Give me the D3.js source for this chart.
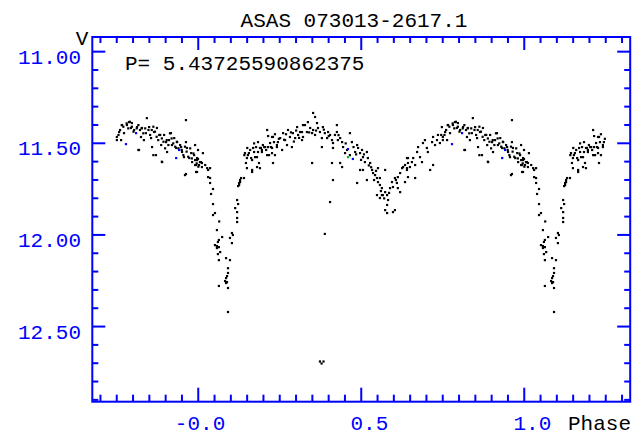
<!DOCTYPE html>
<html>
<head>
<meta charset="utf-8">
<script src="https://cdn.jsdelivr.net/npm/d3@7"></script>
<style>
  html, body { margin: 0; padding: 0; background: #fff; }
  svg { display: block; }
  text { font-family: "Liberation Mono", "DejaVu Sans Mono", monospace; font-size: 21px; }
</style>
</head>
<body>
<svg id="chart" width="643" height="439"></svg>
<script>
// ---------------- data ----------------
const chartTitle = "ASAS 073013-2617.1";
const periodText = "P= 5.43725590862375";
const yAxisName = "V";
const xAxisName = "Phase";

const xLabelValues = [0, 0.5, 1.0];
const xLabelTexts = ["-0.0", "0.5", "1.0"];
const yLabelValues = [11.0, 11.5, 12.0, 12.5];
const yLabelTexts = ["11.00", "11.50", "12.00", "12.50"];

// observations folded on phase 0..1 : [phase, V magnitude]
const blackPoints = [
  // primary eclipse
  [0.990,11.509],[0.999,11.536],[0.996,11.580],[0.999,11.585],[0.005,11.602],[0.011,11.607],
  [0.990,11.618],[0.014,11.553],[0.021,11.618],[0.027,11.635],[0.030,11.645],[0.036,11.635],
  [0.996,11.656],[0.030,11.684],[0.036,11.689],[0.036,11.716],[0.045,11.749],[0.039,11.776],
  [0.045,11.831],[0.051,11.880],[0.045,11.891],[0.064,11.926],[0.119,11.907],[0.119,11.929],
  [0.057,11.973],[0.103,11.989],[0.106,12.000],[0.073,12.011],[0.097,12.016],[0.063,12.027],
  [0.060,12.038],[0.051,12.055],[0.057,12.060],[0.063,12.066],[0.103,12.044],[0.057,12.071],
  [0.067,12.093],[0.060,12.104],[0.085,12.126],[0.097,12.137],[0.063,12.137],[0.091,12.181],
  [0.091,12.207],[0.088,12.224],[0.085,12.235],[0.082,12.251],[0.085,12.262],[0.088,12.257],
  [0.063,12.278],[0.091,12.289],[0.091,12.420],
  [0.119,11.809],[0.122,11.831],[0.113,11.853],[0.119,11.875],
  [0.122,11.733],[0.125,11.716],[0.128,11.700],[0.131,11.689],[0.125,11.727],[0.128,11.711],
  // rising branch
  [0.140,11.689],[0.143,11.553],[0.149,11.580],[0.152,11.564],[0.159,11.536],[0.165,11.591],
  [0.168,11.525],[0.174,11.575],[0.180,11.629],[0.183,11.547],[0.189,11.525],[0.149,11.635],
  [0.165,11.656],[0.189,11.635],[0.195,11.536],[0.198,11.509],[0.205,11.520],[0.211,11.564],
  [0.214,11.520],[0.220,11.498],[0.226,11.525],[0.229,11.607],[0.235,11.564],[0.241,11.509],
  [0.244,11.493],[0.251,11.471],[0.257,11.536],[0.260,11.444],[0.266,11.482],[0.272,11.509],
  [0.275,11.427],[0.281,11.465],[0.287,11.520],[0.290,11.444],[0.297,11.471],[0.303,11.411],
  [0.306,11.454],[0.312,11.438],[0.318,11.482],[0.321,11.400],[0.211,11.427],[0.229,11.465],
  [0.226,11.553],
  [0.141,11.564],[0.150,11.525],[0.162,11.580],[0.171,11.547],[0.177,11.520],[0.180,11.575],
  [0.186,11.607],[0.192,11.525],[0.195,11.547],[0.202,11.520],[0.208,11.536],[0.217,11.564],
  [0.223,11.520],[0.226,11.465],[0.232,11.493],[0.241,11.520],[0.146,11.607],[0.165,11.645],
  [0.155,11.553],[0.171,11.500],[0.183,11.493],[0.214,11.460],[0.235,11.450],[0.247,11.475],
  [0.263,11.480],[0.269,11.450],[0.284,11.440],[0.293,11.490],[0.300,11.430],[0.309,11.470],
  // maximum near phase 0.33
  [0.318,11.438],[0.321,11.465],[0.327,11.400],[0.333,11.438],[0.336,11.384],[0.343,11.416],
  [0.349,11.444],[0.352,11.427],[0.358,11.356],[0.358,11.454],[0.364,11.389],[0.367,11.416],
  [0.373,11.438],[0.379,11.471],[0.382,11.411],[0.388,11.444],[0.395,11.471],[0.398,11.438],
  [0.404,11.454],[0.410,11.482],[0.413,11.498],[0.419,11.454],[0.425,11.400],[0.425,11.438],
  [0.428,11.482],[0.435,11.471],[0.441,11.493],[0.444,11.520],[0.413,11.525],[0.379,11.520],
  [0.349,11.607],[0.410,11.607],[0.435,11.607],[0.441,11.629],[0.413,11.700],[0.404,11.820],
  [0.352,11.334],[0.340,11.440],[0.361,11.430],[0.385,11.425],[0.400,11.460],[0.430,11.455],
  // decline to secondary minimum
  [0.465,11.444],[0.471,11.493],[0.456,11.536],[0.450,11.553],[0.465,11.564],[0.481,11.547],
  [0.487,11.509],[0.490,11.525],[0.496,11.553],[0.502,11.536],[0.505,11.575],[0.511,11.602],
  [0.496,11.645],[0.505,11.645],[0.517,11.547],[0.520,11.580],[0.527,11.607],[0.533,11.645],
  [0.536,11.662],[0.542,11.673],[0.517,11.700],[0.548,11.689],[0.551,11.635],[0.551,11.711],
  [0.557,11.727],[0.563,11.744],[0.566,11.782],[0.573,11.766],[0.579,11.782],[0.563,11.782],
  [0.582,11.809],[0.579,11.836],[0.573,11.864],[0.579,11.880],[0.557,11.798],[0.487,11.716],
  [0.548,11.782],[0.597,11.875],[0.603,11.864],
  [0.452,11.500],[0.476,11.520],[0.484,11.560],[0.499,11.590],[0.508,11.560],[0.523,11.620],
  [0.530,11.630],[0.539,11.700],[0.545,11.650],[0.560,11.760],[0.570,11.800],
  // rise after secondary minimum
  [0.588,11.744],[0.594,11.711],[0.597,11.738],[0.603,11.689],[0.609,11.716],[0.612,11.684],
  [0.619,11.662],[0.625,11.635],[0.628,11.629],[0.634,11.618],[0.640,11.645],[0.643,11.580],
  [0.619,11.766],[0.612,11.744],[0.573,11.645],[0.557,11.689],[0.585,11.770],[0.606,11.700],
  [0.640,11.580],[0.643,11.607],[0.640,11.635],[0.649,11.629],[0.655,11.602],[0.659,11.580],
  [0.665,11.618],[0.634,11.711],[0.643,11.684],[0.665,11.689],[0.671,11.547],[0.674,11.520],
  [0.680,11.575],[0.686,11.602],[0.689,11.498],[0.695,11.482],[0.701,11.525],[0.704,11.547],
  [0.711,11.645],[0.720,11.618],[0.717,11.493],[0.720,11.465],[0.726,11.509],[0.732,11.482],
  [0.735,11.454],[0.741,11.498],[0.747,11.411],[0.750,11.465],[0.757,11.438],[0.763,11.482],
  [0.766,11.400],[0.772,11.444],[0.781,11.400],[0.787,11.384],[0.793,11.416],[0.796,11.389],
  [0.803,11.427],[0.812,11.411],[0.818,11.536],[0.824,11.465],[0.827,11.416],[0.833,11.482],
  [0.839,11.444],[0.842,11.362],[0.849,11.411],[0.855,11.471],[0.858,11.520],[0.864,11.438],
  [0.870,11.564],[0.873,11.416],[0.880,11.454],[0.886,11.509],[0.889,11.602],[0.895,11.454],
  [0.901,11.493],[0.904,11.547],[0.910,11.482],[0.916,11.444],[0.919,11.509],[0.926,11.471],
  [0.932,11.525],[0.935,11.493],[0.947,11.520],[0.950,11.547],[0.956,11.575],[0.962,11.493],
  [0.965,11.525],[0.972,11.580],[0.978,11.553],[0.981,11.602],[0.987,11.564],[0.993,11.618],
  [0.996,11.591],[0.002,11.618],[0.962,11.373],[0.962,11.667],[0.993,11.656],[0.008,11.602],
  [0.011,11.629],
  [0.750,11.482],[0.755,11.454],[0.760,11.427],[0.765,11.400],[0.770,11.409],[0.780,11.391],
  [0.785,11.418],[0.790,11.382],[0.796,11.409],[0.801,11.436],[0.811,11.418],[0.816,11.400],
  [0.821,11.427],[0.826,11.418],[0.831,11.445],[0.837,11.418],[0.847,11.427],[0.852,11.454],
  [0.857,11.427],[0.862,11.409],[0.867,11.436],[0.872,11.464],[0.877,11.482],[0.883,11.454],
  [0.888,11.473],[0.893,11.491],[0.898,11.527],[0.903,11.482],[0.908,11.509],[0.913,11.445],
  [0.918,11.473],[0.923,11.500],[0.929,11.518],[0.934,11.491],[0.939,11.527],[0.944,11.509],
  [0.949,11.536],[0.954,11.564],[0.959,11.518],[0.964,11.545],[0.969,11.573],[0.975,11.527],
  [0.980,11.582],[0.985,11.555],[0.990,11.591],[0.995,11.609],[0.000,11.627],[0.816,11.536],
  [0.862,11.564],[0.888,11.600],[0.959,11.673],[0.745,11.454],
  // isolated faint points
  [0.388,11.994],[0.373,12.690],[0.378,12.701],[0.384,12.690]
];
const bluePoints = [
  [0.778,11.504],[0.809,11.444],[0.932,11.580],[0.941,11.536],[0.459,11.531],[0.474,11.585]
];
const greenPoints = [
  [0.459,11.575]
];

// ---------------- layout ----------------
const svg = d3.select("#chart");
const blue = "#0000ff";
const x = d3.scaleLinear().domain([-0.325, 1.325]).range([92.3, 630.2]);
const y = d3.scaleLinear().domain([10.92, 12.91]).range([37, 401.7]);
const shownMin = -0.25, shownMax = 1.25;

function unfold(points) {
  const out = [];
  points.forEach(([p, m]) => {
    [-1, 0, 1].forEach(k => {
      const q = p + k;
      if (q >= shownMin && q <= shownMax) out.push([q, m]);
    });
  });
  return out;
}

const x0 = x.range()[0], x1 = x.range()[1], y0 = y.range()[0], y1 = y.range()[1];

// points
function drawPoints(points, color) {
  svg.append("g").selectAll("rect").data(unfold(points)).join("rect")
    .attr("x", d => x(d[0]) - 1)
    .attr("y", d => y(d[1]) - 1)
    .attr("width", 2.2).attr("height", 2.2)
    .attr("fill", color);
}
drawPoints(blackPoints, "#000");
drawPoints(bluePoints, blue);
drawPoints(greenPoints, "#00c000");

// frame
svg.append("rect")
  .attr("x", x0).attr("y", y0)
  .attr("width", x1 - x0).attr("height", y1 - y0)
  .attr("fill", "none").attr("stroke", blue).attr("stroke-width", 2);

// ticks
const ticksG = svg.append("g").attr("stroke", blue).attr("stroke-width", 2);
const xTickVals = d3.range(-30, 131, 5).map(v => v / 100);
xTickVals.forEach(v => {
  const major = Math.abs(v * 2 - Math.round(v * 2)) < 1e-6;
  const px = x(v);
  ticksG.append("line").attr("x1", px).attr("x2", px).attr("y1", y1).attr("y2", y1 - (major ? 14 : 7));
  ticksG.append("line").attr("x1", px).attr("x2", px).attr("y1", y0).attr("y2", y0 + (major ? 13 : 6));
});
const yTickVals = d3.range(110, 130, 1).map(v => v / 10);
yTickVals.forEach(v => {
  const major = Math.abs(v * 2 - Math.round(v * 2)) < 1e-6;
  const py = y(v);
  ticksG.append("line").attr("x1", x0).attr("x2", x0 + (major ? 13 : 6)).attr("y1", py).attr("y2", py);
  ticksG.append("line").attr("x1", x1).attr("x2", x1 - (major ? 13 : 6)).attr("y1", py).attr("y2", py);
});

// tick labels
svg.append("g").selectAll("text").data(yLabelValues).join("text")
  .attr("x", 81).attr("y", d => y(d) + 12)
  .attr("text-anchor", "end").attr("fill", blue)
  .text((d, i) => yLabelTexts[i]);
svg.append("g").selectAll("text").data(xLabelValues).join("text")
  .attr("x", d => x(d) + 27).attr("y", 430)
  .attr("text-anchor", "end").attr("fill", blue)
  .text((d, i) => xLabelTexts[i]);

// titles
svg.append("text").attr("x", 354).attr("y", 27).attr("text-anchor", "middle").attr("fill", "#000").text(chartTitle);
svg.append("text").attr("x", 125).attr("y", 70).attr("fill", "#000").text(periodText);
svg.append("text").attr("x", 82).attr("y", 45).attr("text-anchor", "middle").attr("fill", "#000").text(yAxisName);
svg.append("text").attr("x", 568).attr("y", 430).attr("fill", "#000").text(xAxisName);
</script>
</body>
</html>
